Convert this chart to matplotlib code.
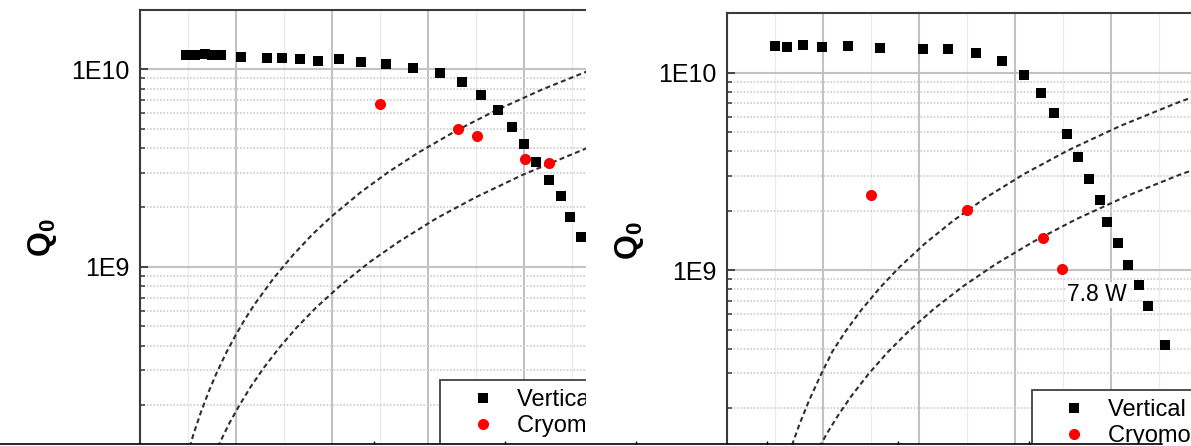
import numpy as np
import matplotlib
matplotlib.use("Agg")
import matplotlib.pyplot as plt
from matplotlib.ticker import MultipleLocator, LogLocator, NullFormatter, FuncFormatter
from matplotlib.patches import Rectangle

plt.rcParams['font.family'] = ['Liberation Sans', 'DejaVu Sans']
plt.rcParams['mathtext.fontset'] = 'custom'
plt.rcParams['mathtext.rm'] = 'Liberation Sans'
plt.rcParams['mathtext.bf'] = 'Liberation Sans:bold'

### left panel data (Eacc [MV/m], Q0)
E_vert_L = [2.41, 2.88, 3.39, 3.79, 4.26, 5.31, 6.65, 7.43, 8.35, 9.31, 10.40, 11.56,
            12.85, 14.23, 15.63, 16.81, 17.81, 18.66, 19.41, 20.04, 20.66, 21.35,
            21.94, 22.40, 23.02]
Q_vert_L = [1.18e10, 1.18e10, 1.20e10, 1.18e10, 1.18e10, 1.158e10, 1.14e10, 1.137e10,
            1.124e10, 1.105e10, 1.124e10, 1.093e10, 1.06e10, 1.019e10, 9.58e9, 8.60e9,
            7.39e9, 6.20e9, 5.12e9, 4.19e9, 3.39e9, 2.77e9, 2.28e9, 1.78e9, 1.42e9]

E_cryo_L = [12.55, 16.60, 17.59, 20.10, 21.35]
Q_cryo_L = [6.67e9, 4.99e9, 4.60e9, 3.53e9, 3.37e9]

# constant-power dashed lines
E_pa_L = [2.4, 2.8, 3.2, 3.6, 4.0, 4.5, 5.0, 5.5, 6.0, 7.0, 8.0, 9.0, 10.0, 11.5, 13.0,
          14.5, 16.5, 18.5, 21.0, 23.5]
Q_pa_L = [1.04e8, 1.41e8, 1.84e8, 2.33e8, 2.88e8, 3.65e8, 4.5e8, 5.45e8, 6.48e8, 8.8e8,
          1.15e9, 1.46e9, 1.8e9, 2.38e9, 3.04e9, 3.78e9, 4.9e9, 6.16e9, 7.94e9, 9.94e9]
E_pb_L = [3.9, 4.3, 4.7, 5.2, 5.8, 6.5, 7.3, 8.2, 9.2, 10.5, 12.0, 13.5, 15.5, 17.5,
          20.0, 23.5]
Q_pb_L = [1.12e8, 1.36e8, 1.63e8, 1.99e8, 2.48e8, 3.11e8, 3.92e8, 4.95e8, 6.23e8,
          8.11e8, 1.06e9, 1.34e9, 1.77e9, 2.25e9, 2.94e9, 4.07e9]

### right panel data
E_vert_R = [2.52, 3.13, 3.97, 4.98, 6.30, 8.00, 10.24, 11.53, 13.00, 14.32, 15.47,
            16.35, 17.05, 17.70, 18.28, 18.86, 19.42, 19.83, 20.40, 20.92, 21.47,
            21.96, 22.83]
Q_vert_R = [1.365e10, 1.354e10, 1.376e10, 1.354e10, 1.365e10, 1.339e10, 1.318e10,
            1.318e10, 1.263e10, 1.146e10, 9.77e9, 7.89e9, 6.23e9, 4.89e9, 3.73e9,
            2.89e9, 2.26e9, 1.76e9, 1.37e9, 1.059e9, 8.39e8, 6.59e8, 4.17e8]

E_cryo_R = [7.50, 12.50, 16.49, 17.48]
Q_cryo_R = [2.41e9, 2.01e9, 1.46e9, 1.011e9]

E_pa_R = [3.4, 3.8, 4.3, 4.9, 5.5, 6.2, 7.0, 8.0, 9.0, 10.3, 11.8, 13.5, 15.5, 17.8,
          20.5, 23.5, 26.0]
Q_pa_R = [1.3e8, 1.67e8, 2.2e8, 2.95e8, 3.87e8, 4.92e8, 6.27e8, 8.19e8, 1.037e9,
          1.358e9, 1.782e9, 2.333e9, 3.075e9, 4.056e9, 5.379e9, 7.069e9, 8.653e9]
E_pb_R = [4.7, 5.2, 5.8, 6.5, 7.4, 8.4, 9.5, 10.8, 12.3, 14.0, 16.0, 18.2, 20.8, 23.5,
          26.0]
Q_pb_R = [1.208e8, 1.479e8, 1.84e8, 2.311e8, 2.995e8, 3.86e8, 4.937e8, 6.38e8,
          8.276e8, 1.072e9, 1.4e9, 1.812e9, 2.367e9, 3.021e9, 3.698e9]

labels = ["Vertical test", "Cryomodule test"]
note_R = "7.8 W"

W, H = 1191, 446
fig = plt.figure(figsize=(W / 100, H / 100), dpi=100)


def px_box(left, top, width, height):
    return [left / W, 1 - (top + height) / H, width / W, height / H]


def dec_label(v, pos):
    p = round(np.log10(v))
    return "1E%d" % p if p >= 9 else ""


def style_axes(ax):
    ax.set_yscale('log')
    ax.set_xlim(0, 30)
    ax.set_ylim(1e8, 2e10)
    ax.xaxis.set_major_locator(MultipleLocator(5))
    ax.xaxis.set_minor_locator(MultipleLocator(2.5))
    ax.yaxis.set_major_locator(LogLocator(base=10))
    ax.yaxis.set_minor_locator(LogLocator(base=10, subs=range(2, 10)))
    ax.yaxis.set_minor_formatter(NullFormatter())
    ax.yaxis.set_major_formatter(FuncFormatter(dec_label))
    ax.set_axisbelow(True)
    ax.grid(which='major', color='#c2c2c2', lw=1.5)
    ax.grid(which='minor', axis='x', color='#ececec', lw=1.0)
    ax.grid(which='minor', axis='y', color='#cdcdcd', lw=1.2, ls=(0, (1, 1)))
    for s in ['right', 'bottom']:
        ax.spines[s].set_visible(False)
    for s in ['left', 'top']:
        ax.spines[s].set_color('#3a3a3a')
        ax.spines[s].set_linewidth(1.5)
    ax.tick_params(axis='x', which='both', bottom=False, top=False, labelbottom=False)
    ax.tick_params(axis='y', which='major', direction='in', length=6, width=1.3,
                   color='#3a3a3a', labelsize=18, pad=7)
    ax.tick_params(axis='y', which='minor', direction='in', length=3.5, width=1.1,
                   color='#3a3a3a')
    ax.set_ylabel(r'$\mathbf{Q_0}$', fontsize=23, labelpad=9)


def draw_panel(ax, ev, qv, ec, qc, ea, qa, eb, qb):
    dash = dict(color='#2e2e2e', lw=1.5, dashes=(2.4, 1.6))
    ax.plot(ea, qa, **dash)
    ax.plot(eb, qb, **dash)
    ax.plot(ev, qv, 's', color='black', ms=7.0, mew=0, label=labels[0])
    ax.plot(ec, qc, 'o', color='#ff0000', ms=8.0, mew=0, label=labels[1])


def add_legend(ax, left, top):
    leg = ax.legend(loc='upper left', bbox_to_anchor=(left / W, 1 - top / H),
                    bbox_transform=fig.transFigure, fontsize=17, frameon=True,
                    fancybox=False, framealpha=1, edgecolor='#404040',
                    borderpad=0.4, handlelength=2.8, handletextpad=0.05,
                    labelspacing=0.17, borderaxespad=0, numpoints=1)
    leg.get_frame().set_linewidth(1.3)


# left panel
axL = fig.add_axes(px_box(139.5, 10, 576, 454.4), zorder=0)
style_axes(axL)
draw_panel(axL, E_vert_L, Q_vert_L, E_cryo_L, Q_cryo_L, E_pa_L, Q_pa_L, E_pb_L, Q_pb_L)
add_legend(axL, 440, 380)

# white strip where the left panel is cut off
fig.add_artist(Rectangle((585.5 / W, 0), (726 - 585.5) / W, 1, transform=fig.transFigure,
                         facecolor='white', edgecolor='none', zorder=1))

# right panel
axR = fig.add_axes(px_box(726.7, 13.3, 576, 454.4), zorder=2)
style_axes(axR)
draw_panel(axR, E_vert_R, Q_vert_R, E_cryo_R, Q_cryo_R, E_pa_R, Q_pa_R, E_pb_R, Q_pb_R)
add_legend(axR, 1031.7, 390)
axR.annotate(note_R, xy=(E_cryo_R[-1], Q_cryo_R[-1]), xytext=(24.8, -18.5),
             textcoords='offset points', ha='center', va='center', fontsize=16.5,
             bbox=dict(boxstyle='square,pad=0.05', fc='white', ec='none'))

# rule with small ticks along the bottom edge
axB = fig.add_axes(px_box(0, 444, 1162, 20), zorder=3)
axB.set_xlim(0, 1162)
axB.set_ylim(0, 1)
for s in ['left', 'right', 'bottom']:
    axB.spines[s].set_visible(False)
axB.spines['top'].set_linewidth(1.2)
axB.spines['top'].set_color('black')
axB.set_xticks(np.arange(373.6, 1162, 131.1))
axB.set_yticks([])
axB.tick_params(axis='x', top=True, bottom=False, direction='out', length=2.5, width=1,
                labeltop=False, labelbottom=False)

fig.savefig("out.png", dpi=100)
